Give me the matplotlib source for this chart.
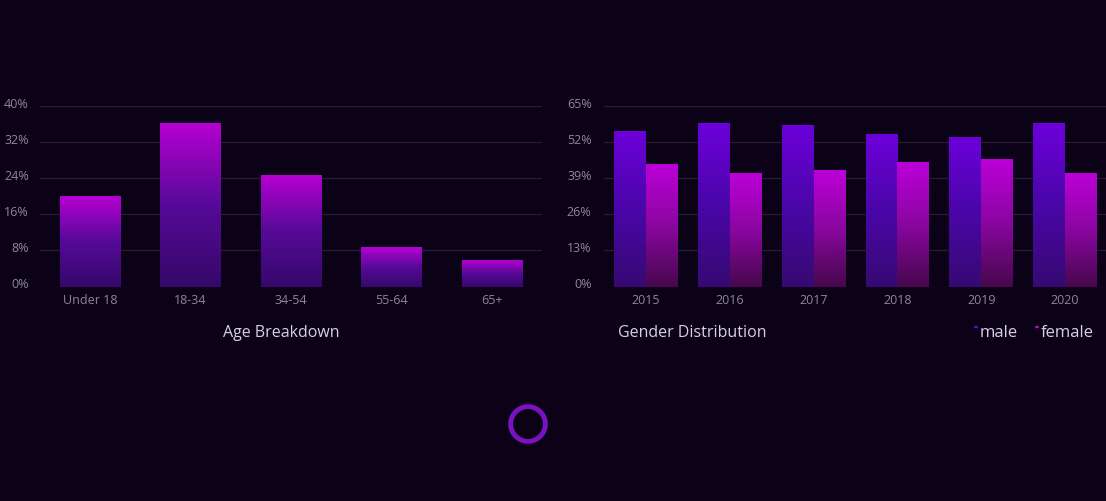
import numpy as np
import matplotlib
matplotlib.use('Agg')
import matplotlib.pyplot as plt
import matplotlib.transforms as mtransforms
from matplotlib.colors import LinearSegmentedColormap
from matplotlib.patches import Circle

age_groups = ['Under 18', '18-34', '34-54', '55-64', '65+']
age_share = [20, 36.3, 24.8, 8.7, 5.8]

years = ['2015', '2016', '2017', '2018', '2019', '2020']
male_share = [56, 59, 58, 55, 54, 59]
female_share = [44, 41, 42, 45, 46, 41]

BG = '#0b0218'
GRID = '#261c36'
TICK = '#8c8798'
TITLE = '#d6d2de'

plt.rcParams['font.family'] = ['Open Sans', 'DejaVu Sans']

age_cmap = LinearSegmentedColormap.from_list('age', ['#35086a', '#560a98', '#b600d2'])
male_cmap = LinearSegmentedColormap.from_list('male', ['#360a72', '#4a06a8', '#6c00da'])
female_cmap = LinearSegmentedColormap.from_list('female', ['#46084c', '#8a06a0', '#bc00d8'])

grad = np.linspace(0, 1, 256).reshape(-1, 1)


def gradient_bars(ax, bars, cmap):
    for b in bars:
        x0, y0 = b.get_x(), b.get_y()
        w, h = b.get_width(), b.get_height()
        b.set_facecolor('none')
        b.set_edgecolor('none')
        im = ax.imshow(grad, cmap=cmap, origin='lower', aspect='auto',
                       extent=(x0, x0 + w, y0, y0 + h), zorder=2)
        im.set_clip_path(b)


def style_axis(ax, ticks, pad_y):
    ax.set_facecolor(BG)
    for s in ax.spines.values():
        s.set_visible(False)
    ax.set_yticks(ticks)
    ax.set_yticklabels(['%d%%' % t for t in ticks])
    ax.tick_params(axis='both', length=0, colors=TICK, labelsize=9)
    ax.tick_params(axis='y', pad=pad_y)
    ax.tick_params(axis='x', pad=5)
    ax.grid(axis='y', color=GRID, linewidth=0.9)
    ax.set_axisbelow(True)
    # labels sit a little above their grid lines
    shift = mtransforms.ScaledTranslation(0, 4 / 100, fig.dpi_scale_trans)
    for lab in ax.get_yticklabels():
        lab.set_transform(lab.get_transform() + shift)


fig = plt.figure(figsize=(11.06, 5.02), dpi=100)
fig.patch.set_facecolor(BG)

# age chart
ax1 = fig.add_axes([40 / 1106, 1 - 287.5 / 502, 502 / 1106, 180.5 / 502])
x1 = np.arange(len(age_groups))
bars = ax1.bar(x1, age_share, width=0.6, zorder=2)
ax1.set_xlim(-0.5, len(age_groups) - 0.5)
ax1.set_ylim(0, 40)
style_axis(ax1, [0, 8, 16, 24, 32, 40], 8)
ax1.set_xticks(x1)
ax1.set_xticklabels(age_groups)
gradient_bars(ax1, bars, age_cmap)

# gender chart
ax2 = fig.add_axes([604 / 1106, 1 - 287.5 / 502, 503 / 1106, 180.5 / 502])
x2 = np.arange(len(years))
bw = 0.38
mbars = ax2.bar(x2 - bw / 2, male_share, width=bw, zorder=2)
fbars = ax2.bar(x2 + bw / 2, female_share, width=bw, zorder=2)
ax2.set_xlim(-0.5, len(years) - 0.5)
ax2.set_ylim(0, 65)
style_axis(ax2, [0, 13, 26, 39, 52, 65], 9)
ax2.set_xticks(x2)
ax2.set_xticklabels(years)
gradient_bars(ax2, mbars, male_cmap)
gradient_bars(ax2, fbars, female_cmap)

fig.text(281 / 1106, 1 - 333 / 502, 'Age Breakdown', color=TITLE, fontsize=11.5,
         ha='center', va='center')
fig.text(618 / 1106, 1 - 333 / 502, 'Gender Distribution', color=TITLE, fontsize=11.5,
         ha='left', va='center')

# legend
fig.text(980 / 1106, 1 - 333 / 502, 'male', color=TITLE, fontsize=12, ha='left', va='center')
fig.text(1041 / 1106, 1 - 333 / 502, 'female', color=TITLE, fontsize=12, ha='left', va='center')
fig.patches.append(Circle((976 / 1106, 1 - 328 / 502), 0.0012, transform=fig.transFigure,
                          color='#6c00da'))
fig.patches.append(Circle((1037 / 1106, 1 - 328 / 502), 0.0012, transform=fig.transFigure,
                          color='#bc00d8'))

# loading ring
ring = fig.add_axes([500 / 1106, 1 - 453 / 502, 56 / 1106, 56 / 502])
ring.set_xlim(-1, 1)
ring.set_ylim(-1, 1)
ring.set_aspect('equal')
ring.axis('off')
ring.add_patch(Circle((0, 0), 0.62, fill=False, edgecolor='#7a12c4', linewidth=3.5))

fig.savefig('out.png', dpi=100, facecolor=BG)
